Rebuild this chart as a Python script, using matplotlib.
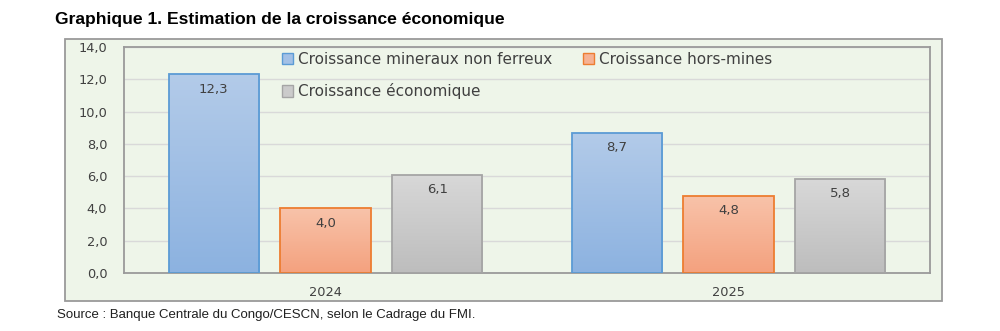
import matplotlib
matplotlib.use("Agg")
import matplotlib.pyplot as plt
import numpy as np
from matplotlib.patches import Rectangle, Patch
from matplotlib.colors import LinearSegmentedColormap
from matplotlib.ticker import FuncFormatter

# Data
years = ["2024", "2025"]
series_names = [
    "Croissance mineraux non ferreux",
    "Croissance hors-mines",
    "Croissance économique",
]
mineraux = [12.3, 8.7]
hors_mines = [4.0, 4.8]
economique = [6.1, 5.8]
yticks = [0, 2, 4, 6, 8, 10, 12, 14]

# Styles: (top colour, bottom colour, edge colour)
styles = [
    ("#b3cbe9", "#8cb2e0", "#5b9bd5"),
    ("#f8c3aa", "#f4a17e", "#ed7d31"),
    ("#d8d8d8", "#bdbdbd", "#a5a5a5"),
]
legend_fill = ["#a3c0e6", "#f6b294", "#cbcbcb"]

bg = "#eef5e9"
text_col = "#404040"

fig = plt.figure(figsize=(10, 3.31), dpi=100)
fig.patch.set_facecolor("white")

# Outer chart frame
frame = Rectangle((0.065, 0.0906), 0.877, 0.7914, transform=fig.transFigure,
                  facecolor=bg, edgecolor="#9a9a9a", linewidth=1.3, zorder=-5)
fig.patches.append(frame)

ax = fig.add_axes([0.124, 0.1752, 0.806, 0.6828])
ax.set_facecolor(bg)

x = np.arange(len(years))
width = 0.2235
step = 0.277
all_series = [mineraux, hors_mines, economique]

for i, (vals, (top, bot, edge)) in enumerate(zip(all_series, styles)):
    cmap = LinearSegmentedColormap.from_list(f"g{i}", [bot, top])
    bars = ax.bar(x + (i - 1) * step, vals, width, facecolor="none",
                  edgecolor=edge, linewidth=1.3, zorder=3)
    for b, v in zip(bars, vals):
        x0, w = b.get_x(), b.get_width()
        grad = np.linspace(0, 1, 256).reshape(-1, 1)
        im = ax.imshow(grad, cmap=cmap, aspect="auto", origin="lower",
                       extent=(x0, x0 + w, 0, v), zorder=2)
        im.set_clip_path(b)
        ax.text(b.get_x() + w / 2, v - 0.5, f"{v:.1f}".replace(".", ","),
                ha="center", va="top", fontsize=9.5, color=text_col, zorder=4)

ax.set_xlim(-0.5, 1.5)
ax.set_ylim(0, 14)
ax.set_yticks(yticks)
ax.yaxis.set_major_formatter(FuncFormatter(lambda v, _: f"{v:.1f}".replace(".", ",")))
ax.set_xticks(x)
ax.set_xticklabels(years)
ax.tick_params(axis="both", length=0, labelsize=9.3, colors=text_col)
ax.tick_params(axis="y", pad=12)
ax.tick_params(axis="x", pad=9)
ax.grid(axis="y", color="#d9d9d9", linewidth=1.0, zorder=1)
ax.set_axisbelow(True)
for s in ax.spines.values():
    s.set_color("#9a9a9a")
    s.set_linewidth(1.3)

# Legend laid out row by row: column-major order needs (0, 2 | 1)
handles = [Patch(facecolor=c, edgecolor=s[2], linewidth=1.0)
           for c, s in zip(legend_fill, styles)]
order = [0, 2, 1]
leg = ax.legend([handles[k] for k in order], [series_names[k] for k in order],
                ncol=2, loc="upper left",
                bbox_to_anchor=(0.19, 1.0), frameon=False, fontsize=11,
                handlelength=0.75, handleheight=0.75, handletextpad=0.3,
                columnspacing=2.0, labelspacing=1.1, borderpad=0.3,
                borderaxespad=0)
for t in leg.get_texts():
    t.set_color(text_col)

fig.text(0.055, 0.94, "Graphique 1. Estimation de la croissance économique",
         fontsize=12.6, fontweight="bold", family="Liberation Sans",
         color="black", ha="left", va="center")
fig.text(0.057, 0.047, "Source : Banque Centrale du Congo/CESCN, selon le Cadrage du FMI.",
         fontsize=9.5, family="Liberation Sans", color="#202020",
         ha="left", va="center")

fig.savefig("out.png", dpi=100, facecolor="white")
